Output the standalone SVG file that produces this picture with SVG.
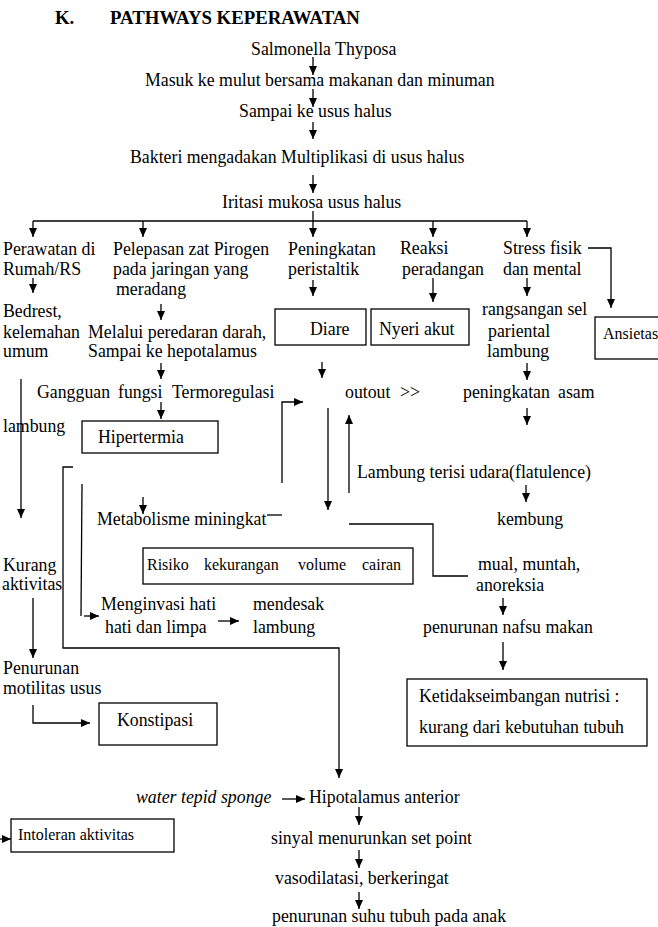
<svg xmlns="http://www.w3.org/2000/svg" width="658" height="927" viewBox="0 0 658 927">
<defs>
<style>
text{font-family:"Liberation Serif","Times New Roman",serif;font-size:17.8px;fill:#000}
.t{font-weight:bold;font-size:18.8px}
.s{font-size:16px}
.i{font-style:italic}
.box{fill:none;stroke:#000;stroke-width:1.3}
.c path,.c line{fill:none;stroke:#000;stroke-width:1.3}
.a{marker-end:url(#ah)}
</style>
<marker id="ah" viewBox="0 0 9 8" refX="9" refY="4" markerWidth="9" markerHeight="8" markerUnits="userSpaceOnUse" orient="auto"><path d="M0,0 L9,4 L0,8 z" fill="#000"/></marker>
</defs>
<rect width="658" height="927" fill="#fff"/>

<g id="title"><text class="t" x="55" y="24">K.</text><text class="t" x="110" y="24">PATHWAYS KEPERAWATAN</text></g>

<g id="n-salmonella"><text x="251" y="55">Salmonella Thyposa</text></g>
<g id="n-masuk"><text x="145" y="86">Masuk ke mulut bersama makanan dan minuman</text></g>
<g id="n-sampai"><text x="239" y="117">Sampai ke usus halus</text></g>
<g id="n-bakteri"><text x="130" y="163">Bakteri mengadakan Multiplikasi di usus halus</text></g>
<g id="n-iritasi"><text x="222" y="208">Iritasi mukosa usus halus</text></g>

<g id="n-perawatan"><text x="3" y="255">Perawatan di</text><text x="3" y="275">Rumah/RS</text></g>
<g id="n-pelepasan"><text x="113" y="255">Pelepasan zat Pirogen</text><text x="113" y="275">pada jaringan yang</text><text x="116" y="295">meradang</text></g>
<g id="n-peningkatan"><text x="288" y="255">Peningkatan</text><text x="288" y="275">peristaltik</text></g>
<g id="n-reaksi"><text x="400" y="254">Reaksi</text><text x="402" y="275">peradangan</text></g>
<g id="n-stress"><text x="503" y="254">Stress fisik</text><text x="503" y="275">dan mental</text></g>

<g id="n-bedrest"><text x="3" y="317">Bedrest,</text><text x="3" y="338">kelemahan</text><text x="3" y="357">umum</text></g>
<g id="n-melalui"><text x="88" y="338">Melalui peredaran darah,</text><text x="88" y="357">Sampai ke hepotalamus</text></g>
<g id="n-diare"><rect class="box" x="275" y="309" width="91" height="36"/><text x="310" y="335">Diare</text></g>
<g id="n-nyeri"><rect class="box" x="371" y="309" width="98" height="36"/><text x="379" y="335">Nyeri akut</text></g>
<g id="n-rangsangan"><text x="482" y="315">rangsangan sel</text><text x="488" y="337">pariental</text><text x="487" y="357">lambung</text></g>
<g id="n-ansietas"><rect class="box" x="595" y="317" width="70" height="42"/><text class="s" x="603" y="339">Ansietas</text></g>

<g id="n-gangguan"><text y="398"><tspan x="37">Gangguan</tspan><tspan x="118">fungsi</tspan><tspan x="172">Termoregulasi</tspan></text></g>
<g id="n-lambung-l"><text x="3" y="432">lambung</text></g>
<g id="n-outout"><text y="398"><tspan x="345">outout</tspan><tspan x="400">&gt;&gt;</tspan></text></g>
<g id="n-asam"><text y="398"><tspan x="463">peningkatan</tspan><tspan x="558">asam</tspan></text></g>
<g id="n-hipertermia"><rect class="box" x="82" y="421" width="136" height="32"/><text x="98" y="443">Hipertermia</text></g>

<g id="n-flatulence"><text x="357" y="478">Lambung terisi udara(flatulence)</text></g>
<g id="n-metabolisme"><text x="97" y="525">Metabolisme miningkat</text></g>
<g id="n-kembung"><text x="497" y="525">kembung</text></g>
<g id="n-risiko"><rect class="box" x="143" y="548" width="270" height="36"/><text class="s" y="570"><tspan x="147">Risiko</tspan><tspan x="204">kekurangan</tspan><tspan x="298">volume</tspan><tspan x="362">cairan</tspan></text></g>
<g id="n-kurang"><text x="3" y="571">Kurang</text><text x="2" y="590">aktivitas</text></g>
<g id="n-mual"><text x="478" y="570">mual, muntah,</text><text x="476" y="591">anoreksia</text></g>
<g id="n-menginvasi"><text x="101" y="610">Menginvasi hati</text><text x="105" y="633">hati dan limpa</text></g>
<g id="n-mendesak"><text x="253" y="610">mendesak</text><text x="253" y="633">lambung</text></g>
<g id="n-nafsu"><text x="423" y="633">penurunan nafsu makan</text></g>

<g id="n-penurunan-mot"><text x="3" y="674">Penurunan</text><text x="3" y="694">motilitas usus</text></g>
<g id="n-ketidak"><rect class="box" x="407" y="679" width="240" height="67"/><text x="419" y="702">Ketidakseimbangan nutrisi :</text><text x="419" y="733">kurang dari kebutuhan tubuh</text></g>
<g id="n-konstipasi"><rect class="box" x="99" y="703" width="118" height="42"/><text x="117" y="726">Konstipasi</text></g>

<g id="n-water"><text class="i" x="136" y="803">water tepid sponge</text></g>
<g id="n-hipotalamus"><text x="309" y="803">Hipotalamus anterior</text></g>
<g id="n-intoleran"><rect class="box" x="11" y="819" width="163" height="33"/><text class="s" x="18" y="840">Intoleran aktivitas</text></g>
<g id="n-sinyal"><text x="271" y="844">sinyal menurunkan set point</text></g>
<g id="n-vasodilatasi"><text x="275" y="884">vasodilatasi, berkeringat</text></g>
<g id="n-suhu"><text x="272" y="922">penurunan suhu tubuh pada anak</text></g>

<g id="connectors" class="c">
<line class="a" x1="313" y1="57" x2="313" y2="75"/>
<line class="a" x1="313" y1="89" x2="313" y2="107"/>
<line class="a" x1="313" y1="122" x2="313" y2="139"/>
<line class="a" x1="313" y1="175" x2="313" y2="193"/>
<line x1="313" y1="211" x2="313" y2="221"/>
<line x1="33" y1="221" x2="527" y2="221"/>
<line class="a" x1="33" y1="221" x2="33" y2="237"/>
<line class="a" x1="143" y1="221" x2="143" y2="237"/>
<line class="a" x1="313" y1="221" x2="313" y2="237"/>
<line class="a" x1="433" y1="221" x2="433" y2="237"/>
<line class="a" x1="527" y1="221" x2="527" y2="237"/>
<line class="a" x1="33" y1="278" x2="33" y2="293"/>
<line class="a" x1="161" y1="304" x2="161" y2="320"/>
<line class="a" x1="161" y1="363" x2="161" y2="379"/>
<line class="a" x1="161" y1="402" x2="161" y2="419"/>
<line class="a" x1="21" y1="379" x2="21" y2="518"/>
<line class="a" x1="313" y1="280" x2="313" y2="296"/>
<line class="a" x1="433" y1="278" x2="433" y2="302"/>
<line class="a" x1="527" y1="278" x2="527" y2="296"/>
<path class="a" d="M588,248 H611 V308"/>
<line class="a" x1="527" y1="363" x2="527" y2="380"/>
<line class="a" x1="527" y1="408" x2="527" y2="425"/>
<line class="a" x1="322" y1="362" x2="322" y2="378"/>
<path class="a" d="M282,483 V402 H303"/>
<line class="a" x1="328" y1="408" x2="328" y2="510"/>
<line class="a" x1="349" y1="493" x2="349" y2="415"/>
<line class="a" x1="526" y1="485" x2="526" y2="502"/>
<line x1="267" y1="515" x2="282" y2="515"/>
<path d="M349,524 H433 V576 H468"/>
<line class="a" x1="143" y1="497" x2="143" y2="514"/>
<path class="a" d="M73,467 H63 V648 H339 V778"/>
<path d="M82,484 L81,616"/>
<line class="a" x1="84" y1="616" x2="99" y2="616"/>
<line class="a" x1="218" y1="621" x2="239" y2="621"/>
<line class="a" x1="33" y1="598" x2="33" y2="658"/>
<line class="a" x1="503" y1="598" x2="503" y2="615"/>
<line class="a" x1="503" y1="642" x2="503" y2="670"/>
<path class="a" d="M33,705 V723 H90"/>
<line class="a" x1="282" y1="799" x2="305" y2="799"/>
<line class="a" x1="0" y1="839" x2="11" y2="839"/>
<line class="a" x1="359" y1="807" x2="359" y2="825"/>
<line class="a" x1="359" y1="850" x2="359" y2="868"/>
<line class="a" x1="359" y1="892" x2="359" y2="909"/>
</g>
</svg>
